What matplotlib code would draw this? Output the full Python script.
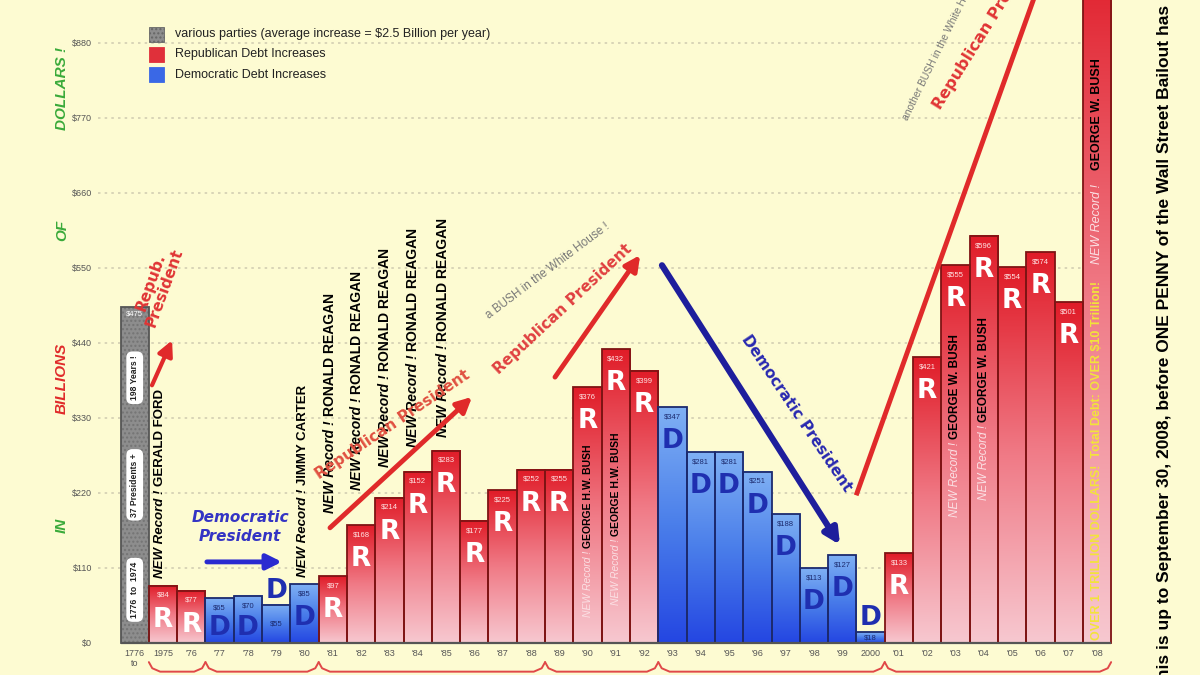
import numpy as np
import matplotlib
matplotlib.use('Agg')
import matplotlib.pyplot as plt
from matplotlib.colors import LinearSegmentedColormap
from matplotlib.patches import Rectangle

plt.rcParams['font.family'] = ['Liberation Sans', 'DejaVu Sans']
plt.rcParams['text.parse_math'] = False

# --- data (billions of dollars of debt increase) ---
years = ["1776\nto", "1975", "'76", "'77", "'78", "'79", "'80", "'81", "'82", "'83",
         "'84", "'85", "'86", "'87", "'88", "'89", "'90", "'91", "'92", "'93",
         "'94", "'95", "'96", "'97", "'98", "'99", "2000", "'01", "'02", "'03",
         "'04", "'05", "'06", "'07", "'08"]
values = [493, 84, 77, 66, 69, 56, 86, 98, 173, 213,
          251, 282, 179, 224, 254, 254, 375, 431, 399, 346,
          280, 280, 251, 189, 110, 129, 16, 132, 419, 554,
          597, 551, 573, 500, 1017]
value_labels = ["$475", "$84", "$77", "$65", "$70", "$55", "$85", "$97", "$168", "$214",
                "$152", "$283", "$177", "$225", "$252", "$255", "$376", "$432", "$399", "$347",
                "$281", "$281", "$251", "$188", "$113", "$127", "$18", "$133", "$421", "$555",
                "$596", "$554", "$574", "$501", ""]
parties = ["V", "R", "R", "D", "D", "D", "D", "R", "R", "R",
           "R", "R", "R", "R", "R", "R", "R", "R", "R", "D",
           "D", "D", "D", "D", "D", "D", "D", "R", "R", "R",
           "R", "R", "R", "R", "R"]
legend_labels = ["various parties (average increase = $2.5 Billion per year)",
                 "Republican Debt Increases",
                 "Democratic Debt Increases"]
term_edges = [0.5, 2.5, 6.5, 14.5, 18.5, 26.5, 34.5]

BG = '#fdfbd2'
RED = '#e02a2a'
BLUE = '#2424a8'

fig = plt.figure(figsize=(12, 6.75), dpi=100)
fig.patch.set_facecolor(BG)
ax = fig.add_axes([0, 0, 1, 1])
ax.set_facecolor(BG)
ax.axis('off')

x = np.arange(len(values))
edge_colors = {'R': '#7e1414', 'D': '#1c2a6e', 'V': '#555555'}
bars = ax.bar(x, values, width=1.0, facecolor='none',
              edgecolor=[edge_colors[p] for p in parties], linewidth=1.3, zorder=3)
ax.set_xlim(-4.76, 37.64)
ax.set_ylim(-46.9, 943.1)
ax.set_autoscale_on(False)

cmaps = {
    'R': LinearSegmentedColormap.from_list('rep', ['#f7c8d0', '#f07a86', '#e01c28']),
    'D': LinearSegmentedColormap.from_list('dem', ['#2446e2', '#4a7eea', '#7fb0f4']),
}
grad = np.linspace(0, 1, 256).reshape(-1, 1)
for rect, party in zip(bars, parties):
    x0, w, h = rect.get_x(), rect.get_width(), rect.get_height()
    if party == 'V':
        ax.add_patch(Rectangle((x0, 0), w, h, facecolor='#8d8d8d', hatch='....',
                               edgecolor='#747474', lw=0, zorder=2))
    else:
        ax.imshow(grad, extent=[x0, x0 + w, 0, h], origin='lower', aspect='auto',
                  cmap=cmaps[party], zorder=2)

# grid, baseline, axis labels
ax.hlines(np.arange(110, 990, 110), -1.3, 34.5, colors='#d2ceb2',
          linestyles=(0, (1.5, 2.5)), linewidth=1.2, zorder=1)
ax.hlines(0, -0.5, 34.5, colors='#555555', linewidth=1.6, zorder=4)
for v in range(0, 990, 110):
    ax.text(-1.5, v, f'${v}', ha='right', va='center', fontsize=6.5, color='#555555')
for i, lbl in enumerate(years):
    ax.text(i, -9, lbl, ha='center', va='top', fontsize=6.5, color='#555555',
            linespacing=1.1)

# presidential term braces under the axis
for a, b in zip(term_edges[:-1], term_edges[1:]):
    bx = [a, a + 0.12, a + 0.4, b - 0.4, b - 0.12, b]
    by = [-28, -37, -42, -42, -37, -28]
    ax.plot(bx, by, color='#e04848', lw=1.4, solid_capstyle='round', zorder=4)

# value labels and party letters
for i, (v, lab, p) in enumerate(zip(values, value_labels, parties)):
    if p == 'V':
        ax.text(i, v - 11, lab, ha='center', va='center', fontsize=5.5, color='white', zorder=5)
        continue
    if v > 900:
        continue
    lab_color = '#ffe4e4' if p == 'R' else '#1c2a6e'
    if v < 60:
        ax.text(i, v / 2, lab, ha='center', va='center', fontsize=5.5, color=lab_color, zorder=5)
        ly = v + 20
    else:
        ax.text(i, v - 14, lab, ha='center', va='center', fontsize=5.5, color=lab_color, zorder=5)
        ly = max(v - 50, 22)
    ax.text(i, ly, p, ha='center', va='center', fontsize=19, fontweight='bold',
            family='DejaVu Sans', color='white' if p == 'R' else '#1f2fb0', zorder=5)

# white pills inside the grey bar
for yv, txt in [(78, "1776  to  1974"), (232, "37 Presidents +"), (389, "198 Years !")]:
    ax.text(0, yv, txt, rotation=90, ha='center', va='center', fontsize=6.2,
            fontweight='bold', color='#222222', zorder=5,
            bbox=dict(boxstyle='round,pad=0.45,rounding_size=0.7', fc='white', ec='none'))

# stacked vertical text pieces
renderer = fig.canvas.get_renderer()
px_per_unit = ax.transData.transform((0, 1))[1] - ax.transData.transform((0, 0))[1]


def stacked(xc, y0, pieces, size):
    y = y0
    for txt, kw in pieces:
        t = ax.text(xc, y, txt, rotation=90, ha='center', va='bottom', fontsize=size,
                    zorder=6, **kw)
        y += t.get_window_extent(renderer).height / px_per_unit


rec_out = dict(style='italic', fontweight='bold', color='black')
name_out = dict(fontweight='bold', color='black')
stacked(0.9, 95, [("NEW Record ! ", rec_out), ("GERALD FORD", name_out)], 9.5)
stacked(5.95, 97, [("NEW Record ! ", rec_out), ("JIMMY CARTER", name_out)], 9.5)
for xc, y0 in [(6.9, 191), (7.87, 224), (8.85, 258), (9.84, 287), (10.9, 302)]:
    stacked(xc, y0, [("NEW Record ! ", rec_out), ("RONALD REAGAN", name_out)], 10)

rec_in = dict(style='italic', color='#fbe0e4')
name_in = dict(fontweight='bold', color='black')
stacked(16, 38, [("NEW Record ! ", rec_in), ("GEORGE H.W. BUSH", name_in)], 7.5)
stacked(17, 56, [("NEW Record ! ", rec_in), ("GEORGE H.W. BUSH", name_in)], 7.5)
stacked(29, 185, [("NEW Record ! ", rec_in), ("GEORGE W. BUSH", name_in)], 8.5)
stacked(30, 210, [("NEW Record ! ", rec_in), ("GEORGE W. BUSH", name_in)], 8.5)
stacked(34, 4, [("OVER 1 TRILLION DOLLARS!  Total Debt: OVER $10 Trillion!     ",
                 dict(fontweight='bold', color='#f2e43a')),
                ("NEW Record !    ", rec_in), ("GEORGE W. BUSH", name_in)], 9)

# hand-drawn style arrows and notes
hand = dict(family='DejaVu Sans', fontweight='bold', zorder=6)


def arrow(start, end, color, lw):
    ax.annotate('', xy=end, xytext=start, zorder=6,
                arrowprops=dict(arrowstyle='-|>,head_length=0.9,head_width=0.45',
                                color=color, lw=lw, shrinkA=0, shrinkB=0))


arrow((0.61, 378), (1.32, 444), RED, 3)
arrow((2.55, 119), (5.2, 119), '#2a2ad0', 3.5)
arrow((6.9, 169), (11.92, 361), RED, 3.5)
arrow((14.85, 390), (17.86, 569), RED, 3.5)
arrow((18.63, 554), (24.92, 144), '#1e1e9c', 4.5)
ax.plot([25.52, 32.0], [220, 972], color=RED, lw=3.5, zorder=6)

ax.text(0.82, 525, "Repub.\nPresident", rotation=70, ha='center', va='center',
        fontsize=11, color='#e03434', linespacing=1.0, **hand)
ax.text(3.72, 170, "Democratic\nPresident", ha='center', va='center', fontsize=11,
        style='italic', color='#3434c4', linespacing=1.3, **hand)
ax.text(9.13, 320, "Republican President", rotation=34, ha='center', va='center',
        fontsize=11, color='#e05040', **hand)
ax.text(15.13, 490, "Republican President", rotation=43, ha='center', va='center',
        fontsize=11, color='#e04040', **hand)
ax.text(14.6, 545, "a BUSH in the White House !", rotation=37, ha='center', va='center',
        fontsize=8.5, color='#777777', zorder=6)
ax.text(23.37, 337, "Democratic President", rotation=-56, ha='center', va='center',
        fontsize=11, color='#2828b0', **hand)
ax.text(28.56, 779, "Republican President", rotation=58, ha='left', va='bottom',
        rotation_mode='anchor', fontsize=11.5, color='#e03434', **hand)
ax.text(27.4, 764, "another BUSH in the White House", rotation=64, ha='left', va='bottom',
        rotation_mode='anchor', fontsize=7.5, color='#777777', zorder=6)

# legend
leg_colors = ['#8d8d8d', '#e0303a', '#3a68e6']
for k, (lbl, col) in enumerate(zip(legend_labels, leg_colors)):
    top = 27 + 20 * k
    ax.add_patch(Rectangle((149 / 1200, 1 - (top + 15) / 675), 15 / 1200, 15 / 675,
                           transform=fig.transFigure, facecolor=col,
                           hatch='....' if k == 0 else None,
                           edgecolor='#666666' if k == 0 else col, lw=0.6, zorder=6))
    fig.text(175 / 1200, 1 - (top + 7.5) / 675, lbl, ha='left', va='center',
             fontsize=9, color='#222222')

# side titles
for yp, word, col in [(88, "DOLLARS !", '#3aaa3a'), (230, "OF", '#3aaa3a'),
                      (378, "BILLIONS", '#e02a2a'), (525, "IN", '#3aaa3a')]:
    fig.text(62 / 1200, 1 - yp / 675, word, rotation=90, ha='center', va='center',
             fontsize=11, fontweight='bold', style='italic', color=col)

fig.text(1165 / 1200, 1 - 690 / 675,
         "This is up to September 30, 2008, before ONE PENNY of the Wall Street Bailout has been spent!",
         rotation=90, ha='center', va='bottom', fontsize=12.5, fontweight='bold', color='black')

fig.savefig('out.png', dpi=100, facecolor=BG)
